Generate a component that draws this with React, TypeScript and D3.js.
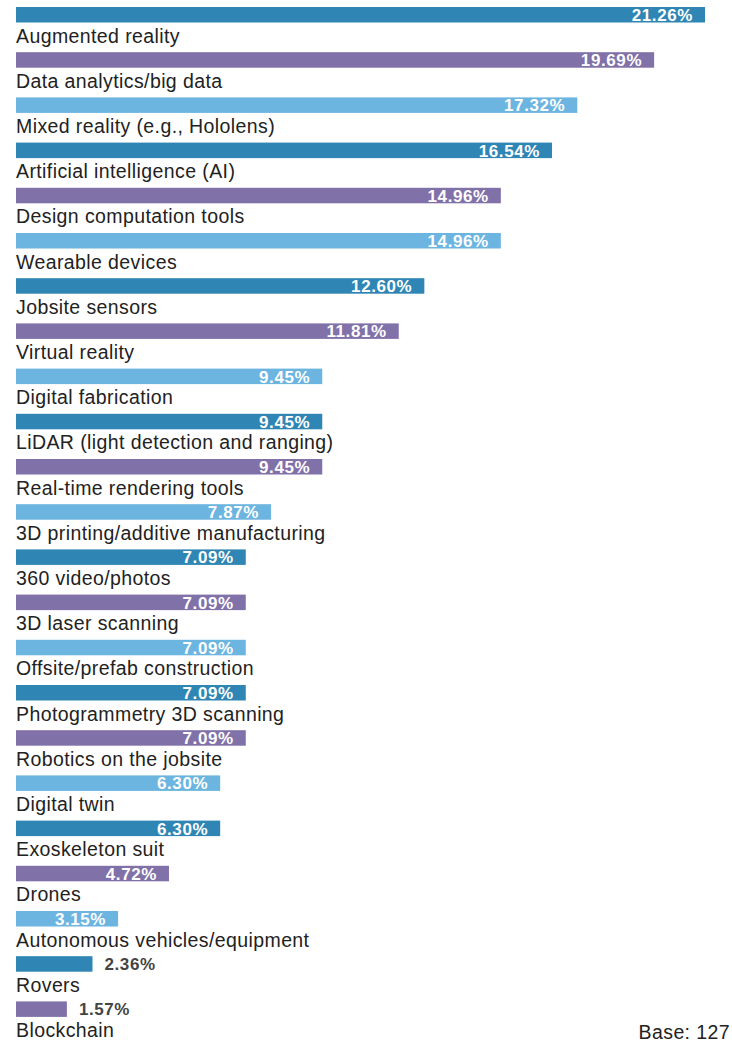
import { useEffect, useRef } from 'react'
import * as d3 from 'd3'

const categories = [
  'Augmented reality',
  'Data analytics/big data',
  'Mixed reality (e.g., Hololens)',
  'Artificial intelligence (AI)',
  'Design computation tools',
  'Wearable devices',
  'Jobsite sensors',
  'Virtual reality',
  'Digital fabrication',
  'LiDAR (light detection and ranging)',
  'Real-time rendering tools',
  '3D printing/additive manufacturing',
  '360 video/photos',
  '3D laser scanning',
  'Offsite/prefab construction',
  'Photogrammetry 3D scanning',
  'Robotics on the jobsite',
  'Digital twin',
  'Exoskeleton suit',
  'Drones',
  'Autonomous vehicles/equipment',
  'Rovers',
  'Blockchain',
]

const values = [
  21.26, 19.69, 17.32, 16.54, 14.96, 14.96, 12.6, 11.81, 9.45, 9.45, 9.45, 7.87,
  7.09, 7.09, 7.09, 7.09, 7.09, 6.3, 6.3, 4.72, 3.15, 2.36, 1.57,
]

const palette = ['#2f86b4', '#8171a9', '#6cb5e0']
const baseNote = 'Base: 127'

const W = 732
const H = 1042
const font = "'Liberation Sans', Arial, sans-serif"

export default function App() {
  const ref = useRef<SVGSVGElement>(null)

  useEffect(() => {
    const svg = d3.select(ref.current)
    svg.selectAll('*').remove()

    const data = categories.map((c, i) => ({ name: c, value: values[i], i }))

    const x = d3.scaleLinear().domain([0, 21.26]).range([16, 705])
    const y = d3
      .scaleBand()
      .domain(categories)
      .range([7, 7 + 22 * 45.2 + 15.5])
      .paddingInner(0.657)
      .paddingOuter(0)

    const g = svg.append('g')

    g.selectAll('.bar')
      .data(data)
      .join('rect')
      .attr('class', 'bar')
      .attr('x', x(0))
      .attr('y', (d) => y(d.name)!)
      .attr('width', (d) => x(d.value) - x(0))
      .attr('height', y.bandwidth())
      .attr('fill', (d) => palette[d.i % 3])

    // small bars get their label outside, in grey
    const inside = (d) => d.value >= 3

    g.selectAll('.val')
      .data(data)
      .join('text')
      .attr('class', 'val')
      .attr('x', (d) => (inside(d) ? x(d.value) - 12 : x(d.value) + 12))
      .attr('y', (d) => y(d.name)! + y.bandwidth() - 1.5)
      .attr('text-anchor', (d) => (inside(d) ? 'end' : 'start'))
      .attr('fill', (d) => (inside(d) ? '#ffffff' : '#444444'))
      .attr('font-family', font)
      .attr('font-weight', 'bold')
      .attr('font-size', 17)
      .attr('letter-spacing', 0.6)
      .text((d) => d.value.toFixed(2) + '%')

    g.selectAll('.lab')
      .data(data)
      .join('text')
      .attr('class', 'lab')
      .attr('x', 16)
      .attr('y', (d) => y(d.name)! + y.bandwidth() + 20)
      .attr('fill', '#222222')
      .attr('font-family', font)
      .attr('font-size', 19.5)
      .attr('letter-spacing', 0.4)
      .text((d) => d.name)

    g.append('text')
      .attr('x', 730)
      .attr('y', 1039)
      .attr('text-anchor', 'end')
      .attr('fill', '#222222')
      .attr('font-family', font)
      .attr('font-size', 19.5)
      .attr('letter-spacing', 0.4)
      .text(baseNote)
  }, [])

  return (
    <svg
      ref={ref}
      width={W}
      height={H}
      style={{ position: 'absolute', left: 0, top: 0, background: '#ffffff' }}
    />
  )
}
